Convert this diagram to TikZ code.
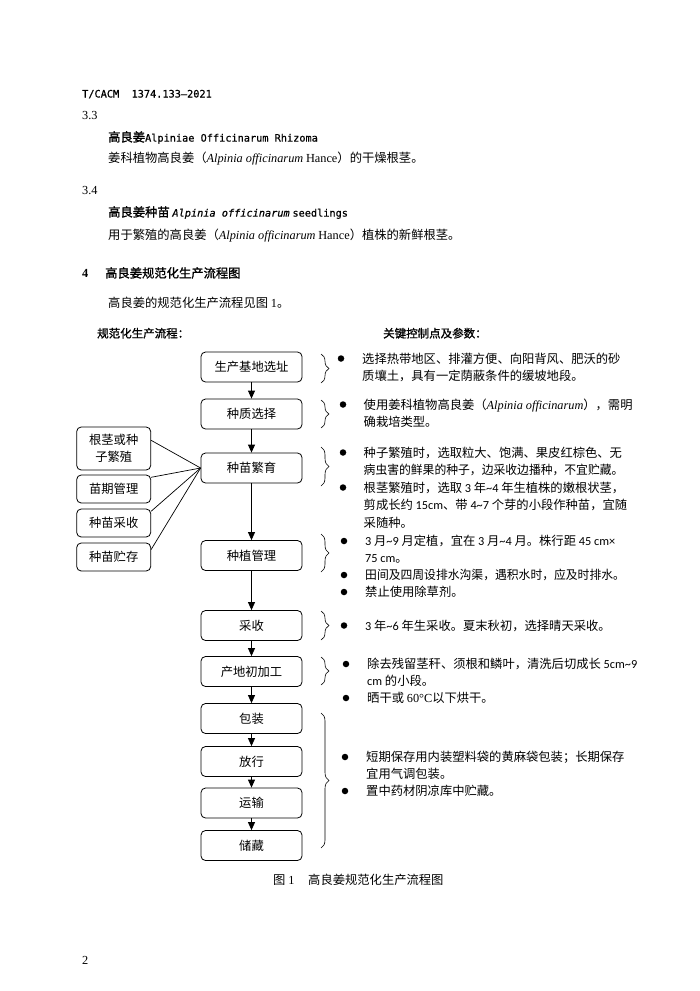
\documentclass[tikz,border=0pt]{standalone}
\usepackage{fontspec}
\setmainfont{Noto Sans CJK SC}
\newfontfamily\hei[FakeBold=1.2]{Noto Sans CJK SC}
\newfontfamily\tms{Liberation Serif}
\newfontfamily\carl{Carlito}
\newfontfamily\dmono[FakeBold=0.6]{DejaVu Sans Mono}
\usetikzlibrary{arrows.meta,decorations.pathreplacing}
\newcommand\fB{\fontsize{12.3pt}{17pt}\selectfont}
\newcommand\fM{\fontsize{10.25pt}{12pt}\selectfont}
\newcommand\mytilde{\textasciitilde}
\newcommand\ital[1]{{\tms\itshape #1}}
\newcommand\cb[1]{{\carl #1}}
\begin{document}
\begin{tikzpicture}[x=1pt,y=-1pt,
  box/.style={draw, rounded corners=4.5pt, line width=0.8pt, minimum width=101pt, minimum height=30pt, inner sep=0pt, font=\fB},
  sbox/.style={draw, rounded corners=4.5pt, line width=0.8pt, minimum width=74pt, minimum height=28pt, inner sep=0pt, font=\fB, align=center},
  txt/.style={anchor=base west, inner sep=0pt, yshift=-4.6pt, font=\fB},
  lat/.style={anchor=base west, inner sep=0pt, yshift=-4.2pt, font=\fB},
  arr/.style={-{Triangle[width=7pt,length=8pt]}, line width=0.8pt},
  lnk/.style={line width=0.7pt},
  brc/.style={decorate, decoration={brace, amplitude=8pt}, line width=0.6pt},
  dot/.style={circle, fill, inner sep=0pt, minimum size=6.5pt}
]
\fill[white] (0,0) rectangle (700,991);
\path[use as bounding box] (0,0) rectangle (700,991);

% ---------- header text ----------
\node[lat, yshift=-0.3pt] (hd) at (82,93) {\dmono\fM T/CACM\ \ 1374.133—2021};
\node[lat] (n33) at (82,115) {\tms 3.3};
\node[txt] (h33) at (108,137) {\hei 高良姜\dmono\fM Alpiniae Officinarum Rhizoma};
\node[txt] (d33) at (108,158) {姜科植物高良姜（\ital{Alpinia officinarum} {\tms Hance}）的干燥根茎。};
\node[lat] (n34) at (82,190) {\tms 3.4};
\node[txt] (h34) at (108,212) {\hei 高良姜种苗 {\dmono\fM\itshape Alpinia officinarum} {\dmono\fM seedlings}};
\node[txt] (d34) at (108,235) {用于繁殖的高良姜（\ital{Alpinia officinarum} {\tms Hance}）植株的新鲜根茎。};
\node[lat] (h4n) at (82,273) {\tms\bfseries 4};
\node[txt] (h4) at (105,273) {\hei 高良姜规范化生产流程图};
\node[txt] (p4) at (108,303) {高良姜的规范化生产流程见图 {\tms 1}。};
\node[txt, font=\fontsize{11.5pt}{14pt}\selectfont] (lt) at (97,333) {\hei 规范化生产流程：};
\node[txt, font=\fontsize{11.5pt}{14pt}\selectfont] (rt) at (383,333) {\hei 关键控制点及参数：};

% ---------- main boxes ----------
\node[box] (b1) at (251.5,367) {生产基地选址};
\node[box] (b2) at (251.5,414) {种质选择};
\node[box] (b3) at (251.5,468) {种苗繁育};
\node[box] (b4) at (251.5,555.5) {种植管理};
\node[box] (b5) at (251.5,625.5) {采收};
\node[box] (b6) at (251.5,671.5) {产地初加工};
\node[box] (b7) at (251.5,718.5) {包装};
\node[box] (b8) at (251.5,761.5) {放行};
\node[box] (b9) at (251.5,803) {运输};
\node[box] (b10) at (251.5,845.5) {储藏};

\foreach \a/\b in {b1/b2,b2/b3,b3/b4,b4/b5,b5/b6,b6/b7,b7/b8,b8/b9,b9/b10}
  \draw[arr] (\a) -- (\b);

% ---------- left boxes ----------
\node[sbox, minimum height=43pt] (l1) at (113.7,448.5) {根茎或种\\子繁殖};
\node[sbox] (l2) at (113.7,489) {苗期管理};
\node[sbox] (l3) at (113.7,523) {种苗采收};
\node[sbox] (l4) at (113.7,557) {种苗贮存};

\draw[lnk] ([yshift=-13.7pt]l1.north east) -- (b3.west);
\draw[lnk] ([yshift=-2.7pt]l2.north east) -- (b3.west);
\draw[lnk] ([yshift=-2.7pt]l3.north east) -- (b3.west);
\draw[lnk] ([yshift=-7pt]l4.north east) -- (b3.west);

% ---------- braces ----------
\draw[brc] (321,354) -- (321,383);
\draw[brc] (321,400) -- (321,428);
\draw[brc] (321,447) -- (321,486);
\draw[brc] (321,534) -- (321,572);
\draw[brc] (321,611) -- (321,640);
\draw[brc] (321,657) -- (321,685);
\draw[brc] (321,713) -- (321,848);

% ---------- bullets ----------
\node[dot] (k1) at (341,358.5) {};
\node[dot] (k2) at (343,404.5) {};
\node[dot] (k3) at (343,452.5) {};
\node[dot] (k4) at (343,487.5) {};
\node[dot] (k5) at (344,541) {};
\node[dot] (k6) at (344,575) {};
\node[dot] (k7) at (344,592) {};
\node[dot] (k8) at (344,625.5) {};
\node[dot] (k9) at (346,664) {};
\node[dot] (k10) at (346,698) {};
\node[dot] (k11) at (345,757) {};
\node[dot] (k12) at (345,791) {};

% ---------- right texts ----------
\node[txt] (s1a) at (362,358.5) {选择热带地区、排灌方便、向阳背风、肥沃的砂};
\node[txt] (s1b) at (362,375.5) {质壤土，具有一定荫蔽条件的缓坡地段。};
\node[txt] (s2a) at (363.5,404.5) {使用姜科植物高良姜（\ital{Alpinia officinarum}），需明};
\node[txt] (s2b) at (363.5,421.5) {确栽培类型。};
\node[txt] (s3a) at (363.5,452.5) {种子繁殖时，选取粒大、饱满、果皮红棕色、无};
\node[txt] (s3b) at (363.5,469.5) {\scalebox{0.96}[1]{病虫害的鲜果的种子，边采收边播种，不宜贮藏。}};
\node[txt] (s3c) at (363.5,487.5) {根茎繁殖时，选取 \cb{3} 年\cb{\mytilde 4} 年生植株的嫩根状茎，};
\node[txt] (s3d) at (363.5,505) {剪成长约 \cb{15cm}、带 \cb{4\mytilde 7} 个芽的小段作种苗，宜随};
\node[txt] (s3e) at (363.5,522.5) {采随种。};
\node[txt] (s4a) at (365,541) {\cb{3} 月\cb{\mytilde 9} 月定植，宜在 \cb{3} 月\cb{\mytilde 4} 月。株行距 \cb{45 cm×}};
\node[txt] (s4b) at (365,558) {\cb{75 cm}。};
\node[txt] (s4c) at (365,575) {\scalebox{0.96}[1]{田间及四周设排水沟渠，遇积水时，应及时排水。}};
\node[txt] (s4d) at (365,592) {禁止使用除草剂。};
\node[txt] (s5a) at (365,625.5) {\cb{3} 年\cb{\mytilde 6} 年生采收。夏末秋初，选择晴天采收。};
\node[txt] (s6a) at (367,664) {除去残留茎秆、须根和鳞叶，清洗后切成长 \cb{5cm\mytilde 9}};
\node[txt] (s6b) at (367,681) {\cb{cm} 的小段。};
\node[txt] (s6c) at (367,698) {晒干或 {\tms 60°C}以下烘干。};
\node[txt] (s7a) at (366,757) {短期保存用内装塑料袋的黄麻袋包装；长期保存};
\node[txt] (s7b) at (366,774) {宜用气调包装。};
\node[txt] (s7c) at (366,791) {置中药材阴凉库中贮藏。};

% ---------- caption / page number ----------
\node[txt] (cap1) at (273,880) {图 {\tms 1}};
\node[txt] (cap2) at (308,880) {高良姜规范化生产流程图};
\node[lat] (pg) at (82,960) {\tms 2};
\end{tikzpicture}
\end{document}
